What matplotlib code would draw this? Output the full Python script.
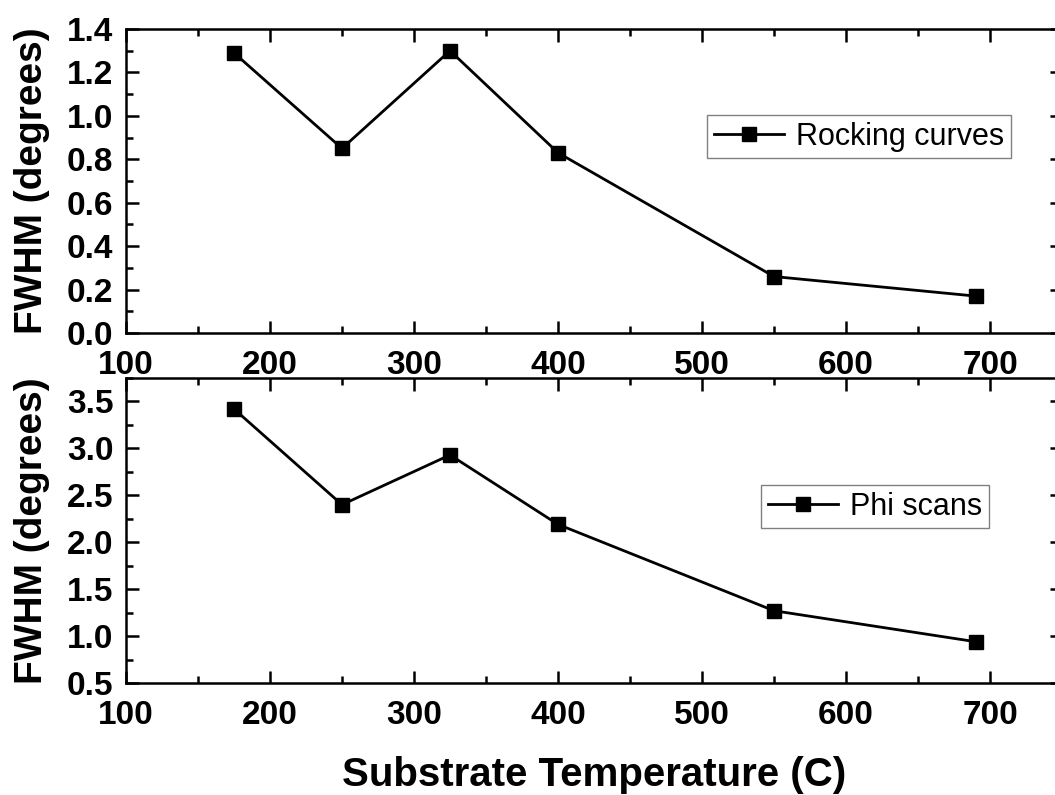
import matplotlib
matplotlib.use("Agg")
import matplotlib.pyplot as plt
from matplotlib.ticker import MultipleLocator

plt.rcParams["font.family"] = ["Liberation Sans", "DejaVu Sans"]

temperature = [175, 250, 325, 400, 550, 690]
rocking_fwhm = [1.29, 0.85, 1.30, 0.83, 0.26, 0.17]
phi_fwhm = [3.42, 2.40, 2.93, 2.19, 1.27, 0.94]

x_ticks = [100, 200, 300, 400, 500, 600, 700]
rocking_ticks = [0.0, 0.2, 0.4, 0.6, 0.8, 1.0, 1.2, 1.4]
phi_ticks = [0.5, 1.0, 1.5, 2.0, 2.5, 3.0, 3.5]

W, H = 1055, 795
LEFT, RIGHT = 126, 1062


def _axes_box(top, bottom):
    return [LEFT / W, 1 - bottom / H, (RIGHT - LEFT) / W, (bottom - top) / H]


def _style(axis, yticks, ylim, yminor, legend_anchor):
    axis.set_xlim(100, 750)
    axis.set_ylim(*ylim)
    axis.set_xticks(x_ticks)
    axis.set_yticks(yticks)
    axis.set_xticklabels([str(t) for t in x_ticks], fontweight="bold")
    axis.set_yticklabels([f"{t:.1f}" for t in yticks], fontweight="bold")
    axis.xaxis.set_minor_locator(MultipleLocator(50))
    axis.yaxis.set_minor_locator(MultipleLocator(yminor))
    axis.tick_params(which="both", direction="in", top=True, right=True, width=1.8, labelsize=24)
    axis.tick_params(axis="y", pad=9)
    axis.tick_params(axis="x", pad=12)
    axis.tick_params(which="major", length=9)
    axis.tick_params(which="minor", length=5)
    for spine in axis.spines.values():
        spine.set_linewidth(1.8)
    axis.set_ylabel("FWHM (degrees)", fontsize=28, fontweight="bold")
    axis.yaxis.set_label_coords(-0.081, 0.5)
    legend = axis.legend(
        loc="upper right",
        bbox_to_anchor=legend_anchor,
        borderaxespad=0,
        fontsize=22,
        handlelength=2.3,
        handletextpad=0.4,
        borderpad=0.22,
        fancybox=False,
        framealpha=1,
        edgecolor="#808080",
    )
    legend.get_frame().set_linewidth(1.0)
    return legend


figure = plt.figure(figsize=(W / 100, H / 100), dpi=100)

top_axis = figure.add_axes(_axes_box(29, 333))
top_axis.plot(temperature, rocking_fwhm, color="black", linewidth=2.0, marker="s",
              markersize=10, label="Rocking curves", clip_on=False)
_style(top_axis, rocking_ticks, (0.0, 1.4), 0.1, (0.9455, 0.717))

bottom_axis = figure.add_axes(_axes_box(378, 683))
bottom_axis.plot(temperature, phi_fwhm, color="black", linewidth=2.0, marker="s",
                 markersize=10, label="Phi scans", clip_on=False)
_style(bottom_axis, phi_ticks, (0.5, 3.75), 0.25, (0.922, 0.649))
bottom_axis.set_xlabel("Substrate Temperature (C)", fontsize=29, fontweight="bold")
bottom_axis.xaxis.set_label_coords(0.5, -0.24)

figure.savefig("out.png", dpi=100, facecolor="white")
plt.close(figure)
